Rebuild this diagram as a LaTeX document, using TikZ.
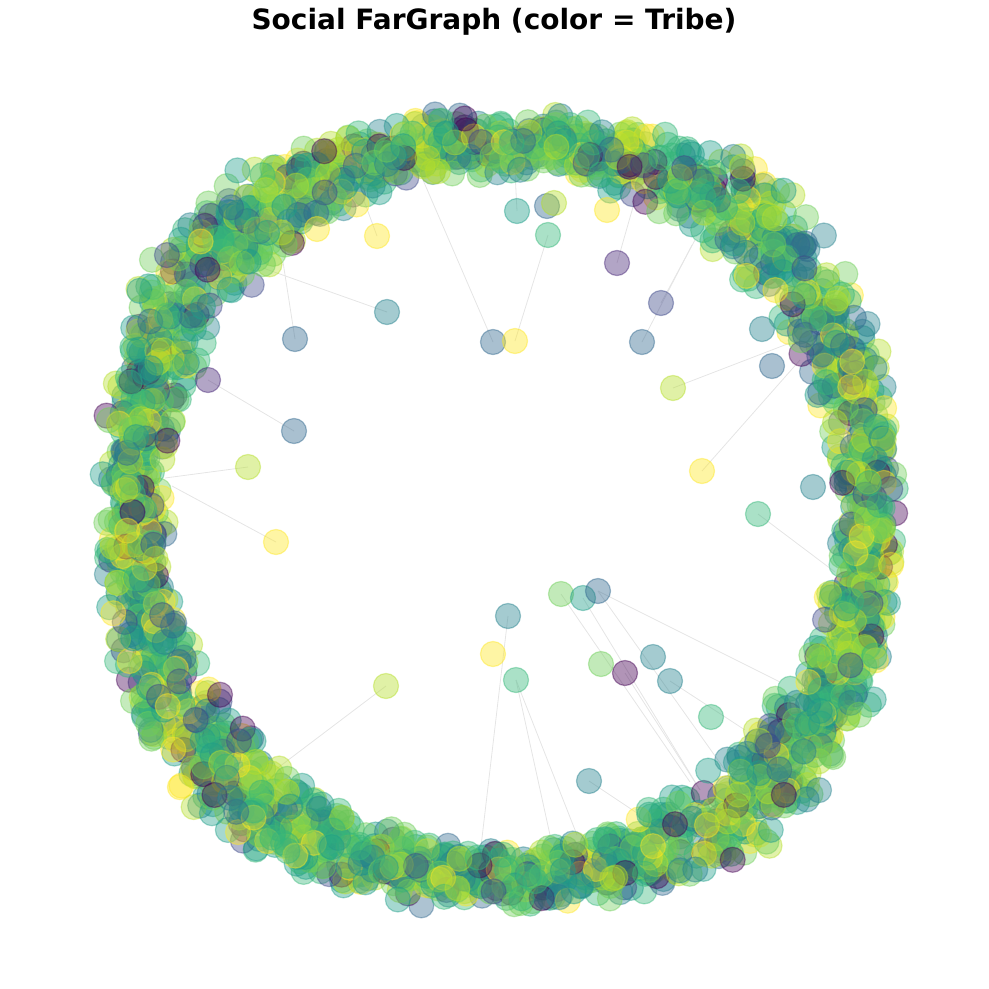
\documentclass[tikz,border=0pt]{standalone}
\usepackage{fontspec}
\setmainfont{DejaVu Sans}
\definecolor{v0}{HTML}{440154}
\definecolor{v1}{HTML}{482878}
\definecolor{v2}{HTML}{3E4989}
\definecolor{v3}{HTML}{31688E}
\definecolor{v4}{HTML}{26828E}
\definecolor{v5}{HTML}{1F9E89}
\definecolor{v6}{HTML}{35B779}
\definecolor{v7}{HTML}{6ECE58}
\definecolor{v8}{HTML}{B5DE2B}
\definecolor{v9}{HTML}{FDE725}
\colorlet{c0}{v0}\colorlet{c1}{v2}\colorlet{c2}{v3}\colorlet{c3}{v4}
\colorlet{c4}{v4}\colorlet{c5}{v5}\colorlet{c6}{v5}\colorlet{c7}{v5}
\colorlet{c8}{v6}\colorlet{c9}{v6}\colorlet{c10}{v6}\colorlet{c11}{v6}
\colorlet{c12}{v7}\colorlet{c13}{v7}\colorlet{c14}{v7}\colorlet{c15}{v8}
\colorlet{c16}{v8}\colorlet{c17}{v8}\colorlet{c18}{v9}\colorlet{c19}{v9}
\tikzset{
  dot/.style={circle, minimum size=25pt, inner sep=0pt, line width=1.2pt,
    fill opacity=0.42, draw opacity=0.45},
  ringdot/.style={line width=1.2pt, fill opacity=0.4, draw opacity=0.42},
  link/.style={draw=black!10, line width=0.8pt},
  titletext/.style={font=\bfseries\fontsize{28}{32}\selectfont}
}
\begin{document}
\begin{tikzpicture}[x=1pt,y=-1pt]
\useasboundingbox (0,0) rectangle (989,989);
\node[titletext] (title) at (494,22) {Social FarGraph (color = Tribe)};

% positions of the interior nodes
\foreach \nm/\x/\y in {
  n1/517/211, n2/547/206, n3/554/203, n4/548/235, n5/607/210,
  n6/377/236, n7/317/229, n8/617/263, n9/661/303, n10/387/312,
  n11/295/339, n12/493/342, n13/515/341, n14/642/342, n15/762/329,
  n16/772/366, n17/208/380, n18/673/388, n19/294/431, n20/248/467,
  n21/702/471, n22/813/487, n23/758/514, n24/276/542, n25/561/594,
  n26/583/598, n27/598/591, n28/508/616, n29/493/654, n30/653/657,
  n31/625/673, n32/601/664, n33/670/681, n34/516/680, n35/386/686,
  n36/711/717, n37/589/781}{
  \coordinate (\nm) at (\x,\y);
}

% free ends of connectors in the ring
\coordinate (e1) at (283,262);
\coordinate (e2) at (263,268);
\coordinate (e3) at (423,180);
\coordinate (e4) at (363,198);
\coordinate (e5) at (165,478);
\coordinate (e6) at (172,486);
\coordinate (e7) at (635,200);
\coordinate (e8) at (695,240);
\coordinate (e9) at (692,245);
\coordinate (e10) at (790,343);
\coordinate (e11) at (800,360);
\coordinate (e12) at (835,572);
\coordinate (e13) at (780,682);
\coordinate (e14) at (275,770);
\coordinate (e15) at (480,855);
\coordinate (e16) at (577,835);
\coordinate (e17) at (550,835);
\coordinate (e18) at (700,790);
\coordinate (e19) at (690,782);
\coordinate (e20) at (745,730);
\coordinate (e21) at (725,770);
\coordinate (e22) at (515,172);
\coordinate (e23) at (640,815);

% connectors
\draw[link] (n11) -- (e1);
\draw[link] (n10) -- (e2);
\draw[link] (n12) -- (e3);
\draw[link] (n6) -- (e4);
\draw[link] (n17) -- (n19);
\draw[link] (n20) -- (e5);
\draw[link] (n24) -- (e6);
\draw[link] (n13) -- (n4);
\draw[link] (n1) -- (e22);
\draw[link] (n8) -- (e7);
\draw[link] (n9) -- (e8);
\draw[link] (n14) -- (e9);
\draw[link] (n18) -- (e10);
\draw[link] (n21) -- (e11);
\draw[link] (n23) -- (e12);
\draw[link] (n27) -- (e13);
\draw[link] (n35) -- (e14);
\draw[link] (n28) -- (e15);
\draw[link] (n34) -- (e16);
\draw[link] (n34) -- (e17);
\draw[link] (n26) -- (e18);
\draw[link] (n25) -- (e19);
\draw[link] (n31) -- (e18);
\draw[link] (n33) -- (e20);
\draw[link] (n27) -- (e21);
\draw[link] (n37) -- (e23);

% ring of nodes
\pgfmathsetseed{11}
\foreach \i in {1,...,2700}{
  \pgfmathsetmacro\ang{360*rnd}
  \pgfmathsetmacro\u{1.3*(rnd+rnd)/2-0.15}
  \pgfmathsetmacro\rad{342+\u*(50+30*(1-cos(4*\ang))/2)}
  \pgfmathrandominteger{\k}{0}{19}
  \filldraw[ringdot, draw=c\k, fill=c\k] ({500+\rad*cos(\ang)},{510+\rad*sin(\ang)}) circle[radius=12.5pt];
}

% interior nodes
\foreach \nm/\c in {
  n1/v5, n2/v3, n3/v8, n4/v6, n5/v9, n6/v9, n7/v9, n8/v1, n9/v2, n10/v4,
  n11/v3, n12/v3, n13/v9, n14/v3, n15/v4, n16/v3, n17/v1, n18/v8, n19/v3, n20/v8,
  n21/v9, n22/v4, n23/v6, n24/v9, n25/v7, n26/v5, n27/v3, n28/v4, n29/v9, n30/v4,
  n31/v0, n32/v7, n33/v4, n34/v6, n35/v8, n36/v6, n37/v4}{
  \node[dot, draw=\c, fill=\c] (d\nm) at (\nm) {};
}
\end{tikzpicture}
\end{document}
